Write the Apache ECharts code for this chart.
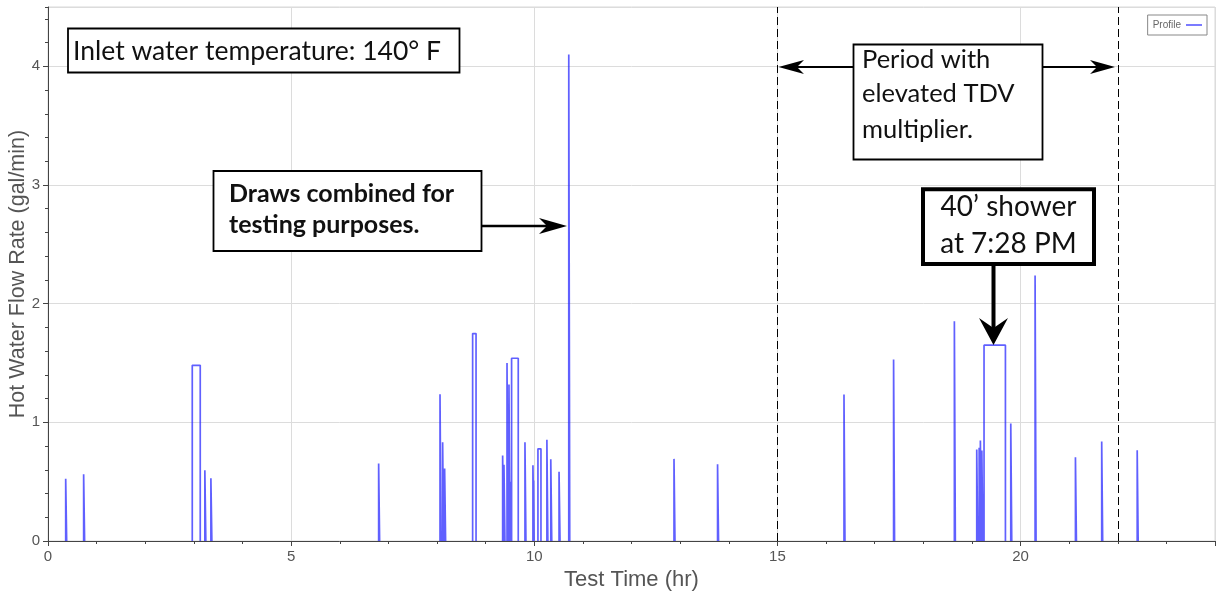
<!DOCTYPE html>
<html>
<head>
<meta charset="utf-8">
<script src="https://cdn.jsdelivr.net/npm/echarts@6/dist/echarts.min.js"></script>
<style>
html,body{margin:0;padding:0;background:#fff;}
#chart{width:1220px;height:596px;}
</style>
</head>
<body>
<div id="chart"></div>
<script>
// Hot water draw profile: start time (hr), duration (hr), flow (gal/min)
const drawStart = [0.364, 0.733, 2.967, 3.226, 3.35, 6.80, 8.062, 8.116, 8.157, 8.733,
  9.35, 9.377, 9.44, 9.48, 9.514, 9.534, 9.809, 9.973, 9.986, 10.076,
  10.26, 10.34, 10.51, 10.71, 12.874, 13.77, 16.37, 17.39, 18.64, 19.10,
  19.15, 19.175, 19.205, 19.25, 19.80, 20.30, 21.13, 21.67, 22.40];
const drawDuration = [0.02, 0.02, 0.164, 0.02, 0.02, 0.02, 0.02, 0.02, 0.02, 0.07,
  0.02, 0.02, 0.02, 0.02, 0.01, 0.137, 0.02, 0.02, 0.01, 0.062,
  0.02, 0.02, 0.02, 0.02, 0.02, 0.02, 0.02, 0.02, 0.02, 0.02,
  0.02, 0.02, 0.02, 0.44, 0.02, 0.02, 0.02, 0.02, 0.02];
const drawFlow = [0.524, 0.563, 1.48, 0.597, 0.529, 0.653, 1.237, 0.832, 0.611, 1.748,
  0.72, 0.642, 1.50, 1.318, 0.499, 1.54, 0.832, 0.639, 0.51, 0.777,
  0.853, 0.689, 0.583, 4.10, 0.692, 0.647, 1.234, 1.53, 1.852, 0.771,
  0.785, 0.847, 0.762, 1.65, 0.99, 2.237, 0.706, 0.838, 0.765];
const tdvPeriod = [15, 22];
const xRange = [0, 24];
const yRange = [0, 4.5];

const profile = [];
drawStart.forEach(function (s, i) {
  const e = s + drawDuration[i];
  const v = drawFlow[i];
  profile.push([s, 0], [s, v], [e, v], [e, 0], '-');
});

const chart = echarts.init(document.getElementById('chart'), null, {renderer: 'canvas'});
const axisFont = 'Liberation Sans';
const annFont = 'Lato';

function head(points) {
  return {type: 'polygon', z: 110, shape: {points: points}, style: {fill: '#000'}};
}
function line(points, w) {
  return {type: 'polyline', z: 110, shape: {points: points}, style: {stroke: '#000', lineWidth: w, fill: null}};
}
function txt(x, y, t, size, weight, align) {
  return {type: 'text', z: 111, style: {x: x, y: y, text: t, fill: '#111',
    font: (weight || 'normal') + ' ' + size + 'px ' + annFont, align: align || 'left', verticalAlign: 'middle'}};
}
function box(x, y, w, h, lw) {
  return {type: 'rect', z: 105, shape: {x: x, y: y, width: w, height: h},
    style: {fill: '#fff', stroke: '#000', lineWidth: lw}};
}

const option = {
  animation: false,
  backgroundColor: '#fff',
  grid: {left: 48, right: 5, top: 7, bottom: 55, containLabel: false, outerBoundsMode: 'none',
    show: true, borderColor: '#d8d8d8', borderWidth: 1},
  legend: {
    data: ['Profile'], right: 13, top: 15, align: 'right', icon: 'rect',
    borderColor: '#888', borderWidth: 1, padding: [5, 5, 5, 5],
    itemWidth: 16, itemHeight: 1.5, itemGap: 4,
    textStyle: {fontSize: 10, color: '#666', fontFamily: axisFont}
  },
  xAxis: {
    type: 'value', min: xRange[0], max: xRange[1], interval: 5,
    name: 'Test Time (hr)', nameLocation: 'middle', nameGap: 28,
    nameTextStyle: {fontSize: 22, color: '#555', fontFamily: axisFont},
    axisLine: {show: true, onZero: false, lineStyle: {color: '#444', width: 1}},
    axisTick: {show: true, length: 5, lineStyle: {color: '#444'}},
    minorTick: {show: true, splitNumber: 5, length: 3, lineStyle: {color: '#444'}},
    axisLabel: {fontSize: 15, color: '#555', fontFamily: axisFont, margin: 8, showMaxLabel: false},
    splitLine: {show: true, lineStyle: {color: '#dcdcdc', width: 1}}
  },
  yAxis: [{
    type: 'value', min: yRange[0], max: yRange[1], interval: 1,
    name: 'Hot Water Flow Rate (gal/min)', nameLocation: 'middle', nameGap: 19, nameMoveOverlap: false,
    nameTextStyle: {fontSize: 21.5, color: '#555', fontFamily: axisFont},
    axisLine: {show: true, lineStyle: {color: '#444', width: 1}},
    axisTick: {show: true, length: 5, lineStyle: {color: '#444'}},
    axisLabel: {fontSize: 15, color: '#555', fontFamily: axisFont, margin: 8, showMaxLabel: false},
    splitLine: {show: true, lineStyle: {color: '#dcdcdc', width: 1}}
  }, {
    type: 'value', min: yRange[0], max: yRange[1], interval: 0.2, position: 'left',
    axisLine: {show: false},
    axisTick: {show: true, length: 3, lineStyle: {color: '#444'}},
    axisLabel: {show: false},
    splitLine: {show: false}
  }],
  series: [{
    name: 'Profile', type: 'line', yAxisIndex: 0, data: profile,
    symbol: 'none', connectNulls: false,
    lineStyle: {color: 'rgba(35,35,255,0.72)', width: 1.7},
    itemStyle: {color: 'rgba(35,35,255,0.8)'},
    markLine: {
      silent: true, symbol: 'none', label: {show: false},
      lineStyle: {color: '#000', type: [8, 4], width: 1},
      data: tdvPeriod.map(function (t) { return {xAxis: t}; })
    }
  }],
  graphic: [
    box(68, 28.5, 391.5, 44, 1.8),
    txt(73, 51, 'Inlet water temperature: 140° F', 26.5),
    box(213.5, 171, 268, 80, 1.8),
    txt(229, 193.5, 'Draws combined for', 25, 'bold'),
    txt(229, 225, 'testing purposes.', 25, 'bold'),
    line([[482, 226], [550, 226]], 2.5),
    head([[567, 226], [539, 218], [547, 226], [539, 234]]),
    box(853.5, 44.5, 189, 115, 1.8),
    txt(862, 60, 'Period with', 25.5),
    txt(862, 93.5, 'elevated TDV', 25.5),
    txt(862, 129.5, 'multiplier.', 25.5),
    line([[853, 67], [795, 67]], 2.2),
    head([[778.5, 67], [804, 60], [797, 67], [804, 74]]),
    line([[1042, 67], [1098, 67]], 2.2),
    head([[1115, 67], [1090, 60], [1097, 67], [1090, 74]]),
    box(923, 189.3, 171, 74.7, 4),
    txt(1008.5, 207, '40’ shower', 28, 'normal', 'center'),
    txt(1008.5, 243.5, 'at 7:28 PM', 28, 'normal', 'center'),
    line([[993.5, 266], [993.5, 330]], 4),
    head([[993.5, 345], [979, 318], [993.5, 328], [1008, 318]])
  ]
};
chart.setOption(option);
</script>
</body>
</html>
